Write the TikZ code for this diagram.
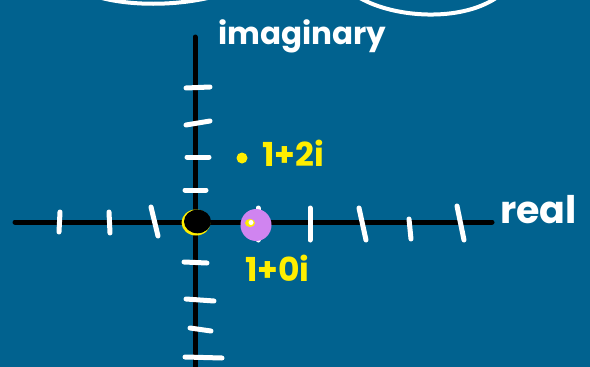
\documentclass[tikz,border=0pt]{standalone}
\usepackage{fontspec}
\setmainfont{Poppins}
\definecolor{Board}{HTML}{01628F}
\definecolor{Marker}{HTML}{FFEE00}
\definecolor{Lilac}{HTML}{D084F0}
\tikzset{
  axisline/.style={black,line width=5pt,line cap=round},
  tickline/.style={white,line width=5pt,line cap=round},
  chalk/.style={text=white,font=\bfseries\fontsize{31}{33}\selectfont,inner sep=0pt},
  marker/.style={text=Marker,font=\bfseries\fontsize{33}{35}\selectfont,inner sep=0pt}
}
\newcommand{\chalktick}[4]{%
  \draw[tickline] (#1,#2)--(#3,#4);
}
\begin{document}
\begin{tikzpicture}[x=1pt,y=-1pt]
\fill[Board] (0,0) rectangle (590,367);
\path[use as bounding box] (0,0) rectangle (590,367);
% clouds at the top
\draw[white,line width=4pt] (98,-3) .. controls (130,6) and (175,6) .. (212,-3);
\draw[white,line width=4pt] (360,-2) .. controls (395,18) and (460,22) .. (496,-2);
% axes
\draw[axisline] (15,222)--(492,222);
\draw[axisline] (195,37)--(195,372);
% ticks along real axis
\chalktick{60}{212}{59}{232}
\chalktick{109}{212}{110}{233}
\chalktick{151}{207}{158}{236}
\chalktick{258}{208}{258}{240}
\chalktick{310}{208}{310}{240}
\chalktick{359}{208}{366}{240}
\chalktick{409}{219}{411}{239}
\chalktick{457}{206}{464}{240}
% ticks along imaginary axis
\chalktick{186}{88}{210}{87}
\chalktick{186}{125}{210}{121}
\chalktick{187}{157}{209}{157}
\chalktick{185}{190}{206}{190}
\chalktick{184}{262}{207}{263}
\chalktick{186}{299}{214}{301}
\chalktick{190}{328}{211}{331}
\chalktick{185}{357}{222}{358}
% origin
\fill[Marker] (196,222.5) ellipse (14.5 and 13);
\fill[black] (197.5,221.5) ellipse (13.5 and 11.8);
% 1+0i
\fill[Lilac] (256,225) ellipse (15.5 and 16);
\fill[Marker] (250,223) ellipse (5 and 4);
\fill[white] (251,222.5) ellipse (2.5 and 2.5);
% 1+2i
\fill[Marker] (242,158) circle (5.5);
\node[marker,anchor=west] (onetwo) at (262,153) {1+2i};
\node[marker,anchor=west] (onezero) at (245,268) {1+0i};
% axis names
\node[chalk,anchor=west] (imag) at (218,36) {imaginary};
\node[chalk,anchor=west,font=\bfseries\fontsize{38}{40}\selectfont] (real) at (500,210) {real};
\end{tikzpicture}
\end{document}
